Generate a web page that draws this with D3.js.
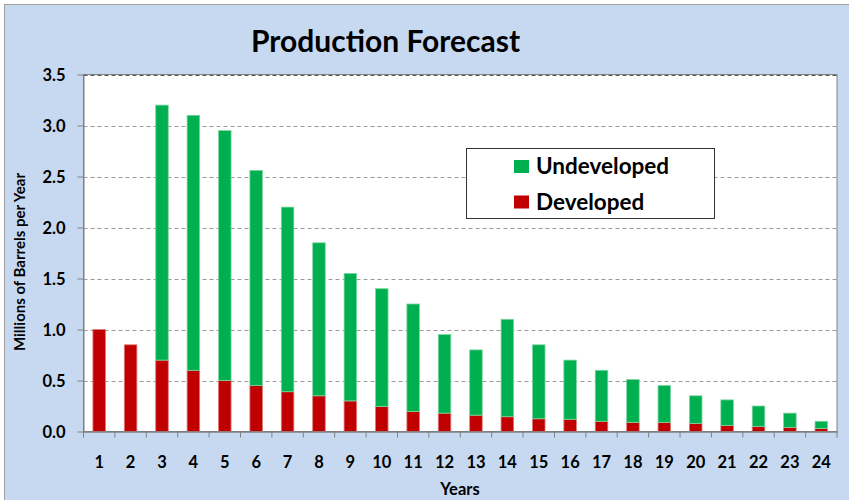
<!DOCTYPE html>
<html><head><meta charset="utf-8">
<script src="https://cdn.jsdelivr.net/npm/d3@7"></script>
<style>body{margin:0;background:#fff}svg{display:block}text{font-family:Lato,"Open Sans",sans-serif;font-weight:bold;fill:#000}</style>
</head><body><svg id="c" width="849" height="500"></svg>
<script>
const years = ["1","2","3","4","5","6","7","8","9","10","11","12","13","14","15","16","17","18","19","20","21","22","23","24"];
const developed   = [1.0,0.85,0.70,0.60,0.50,0.45,0.39,0.35,0.30,0.245,0.196,0.18,0.16,0.145,0.125,0.12,0.10,0.09,0.09,0.08,0.06,0.05,0.04,0.03];
const undeveloped = [0,0,2.50,2.50,2.45,2.11,1.81,1.50,1.25,1.155,1.054,0.77,0.64,0.955,0.725,0.58,0.50,0.42,0.36,0.27,0.25,0.20,0.14,0.07];
const yTicks = [0,0.5,1.0,1.5,2.0,2.5,3.0,3.5];
const seriesNames = ["Undeveloped","Developed"];
const colors = {Undeveloped:"#00B050", Developed:"#C00000"};

const svg = d3.select("#c");
svg.append("rect").attr("x",4.5).attr("y",4.5).attr("width",860).attr("height",510)
  .attr("fill","#C6D9F1").attr("stroke","#a0a0a0");

const m = {l:83.5, t:74.5, r:837, b:431.5};
const x = d3.scaleBand().domain(years).range([m.l,m.r]).paddingInner(0.6).paddingOuter(0.3);
const xb = d3.scaleBand().domain(years).range([m.l,m.r]);
const y = d3.scaleLinear().domain([0,3.5]).range([m.b,m.t]);

svg.append("rect").attr("x",m.l).attr("y",m.t).attr("width",m.r-m.l).attr("height",m.b-m.t)
  .attr("fill","#fff").attr("stroke","#808080");

// gridlines
svg.append("g").selectAll("line").data(yTicks.filter(d=>d>0)).join("line")
  .attr("x1",m.l).attr("x2",m.r).attr("y1",d=>Math.round(y(d))+0.5).attr("y2",d=>Math.round(y(d))+0.5)
  .attr("stroke",d=>d===3.5?"#555":"#9a9a9a").attr("stroke-dasharray","4,3");

const data = years.map((yr,i)=>({year:yr, Developed:developed[i], Undeveloped:undeveloped[i]}));
const stack = d3.stack().keys(["Developed","Undeveloped"])(data);
svg.append("g").selectAll("g").data(stack).join("g")
  .attr("fill",d=>colors[d.key])
  .attr("stroke",d=>d.key==="Undeveloped"?"#7fd6a2":"#e07a7a").attr("stroke-width",0.8)
  .selectAll("rect").data(d=>d.filter(p=>p[1]-p[0]>0)).join("rect")
  .attr("x",d=>x(d.data.year)).attr("width",x.bandwidth())
  .attr("y",d=>y(d[1])).attr("height",d=>y(d[0])-y(d[1]));

// y axis
const ya = svg.append("g").attr("transform",`translate(${m.l},0)`)
  .call(d3.axisLeft(y).tickValues(yTicks).tickFormat(d3.format(".1f")).tickSize(6).tickSizeOuter(0));
ya.select(".domain").attr("stroke","#808080");
ya.selectAll(".tick line").attr("stroke","#808080");
ya.selectAll("text").attr("font-size",16.5).attr("x",-18).attr("dy","0.35em");

// x axis
const xa = svg.append("g").attr("transform",`translate(0,${m.b})`)
  .call(d3.axisBottom(xb).tickSize(0).tickSizeOuter(0));
xa.select(".domain").attr("stroke","#808080").attr("stroke-width",1.5);
xa.selectAll("text").attr("font-size",16.5).attr("y",36).attr("dy",0);
svg.append("g").selectAll("line").data(years.concat(["end"])).join("line")
  .attr("x1",(d,i)=>m.l+i*xb.step()).attr("x2",(d,i)=>m.l+i*xb.step())
  .attr("y1",m.b).attr("y2",m.b+6).attr("stroke","#808080");

// titles
svg.append("text").attr("x",385.5).attr("y",51.5).attr("text-anchor","middle").attr("font-size",30).text("Production Forecast");
svg.append("text").attr("x",460).attr("y",495).attr("text-anchor","middle").attr("font-size",16.5).text("Years");
svg.append("text").attr("transform","translate(25,262) rotate(-90)").attr("text-anchor","middle").attr("font-size",15).text("Millions of Barrels per Year");

// legend
const lg = svg.append("g");
lg.append("rect").attr("x",466.5).attr("y",148.5).attr("width",248).attr("height",70).attr("fill","#fff").attr("stroke","#333");
seriesNames.forEach((n,i)=>{
  lg.append("rect").attr("x",514).attr("y",160+i*35.5).attr("width",15).attr("height",13).attr("fill",colors[n]);
  lg.append("text").attr("x",536).attr("y",174+i*35.5).attr("font-size",22.5).text(n);
});
</script></body></html>
